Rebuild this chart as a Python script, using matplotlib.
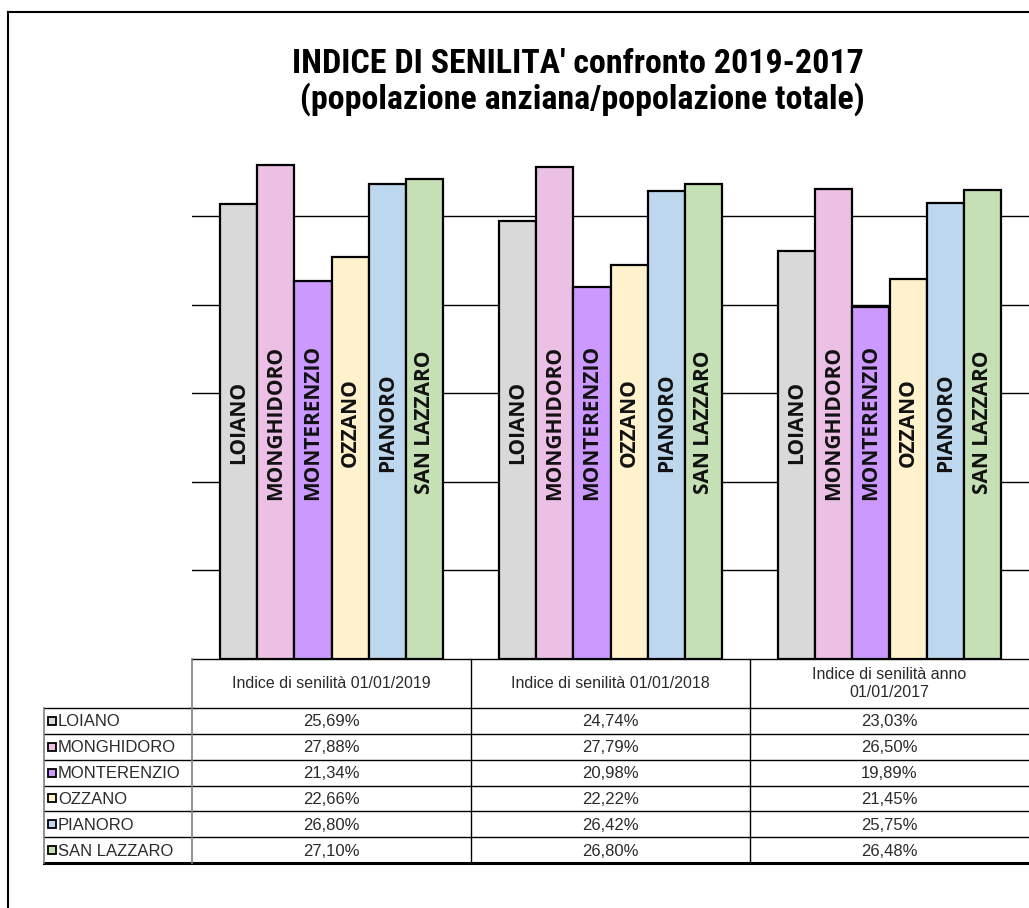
import matplotlib
matplotlib.use("Agg")
import matplotlib.pyplot as plt
from matplotlib import font_manager
from matplotlib.transforms import blended_transform_factory
from matplotlib.patches import Rectangle

# ---- data ----
comuni = ["LOIANO", "MONGHIDORO", "MONTERENZIO", "OZZANO", "PIANORO", "SAN LAZZARO"]
periodi = ["Indice di senilità 01/01/2019", "Indice di senilità 01/01/2018",
           "Indice di senilità anno\n01/01/2017"]
val_2019 = [25.69, 27.88, 21.34, 22.66, 26.80, 27.10]
val_2018 = [24.74, 27.79, 20.98, 22.22, 26.42, 26.80]
val_2017 = [23.03, 26.50, 19.89, 21.45, 25.75, 26.48]
colori = ["#D9D9D9", "#ECC0E4", "#CC99FF", "#FFF2CC", "#BDD7EE", "#C5E0B4"]
titolo = "INDICE DI SENILITA' confronto 2019-2017\n (popolazione anziana/popolazione totale)"

serie = [val_2019, val_2018, val_2017]

# pick a narrow sans font for the title if one is installed
names = {f.name for f in font_manager.fontManager.ttflist}
title_font = "Liberation Sans"
for pref in ["Liberation Sans Narrow", "Arial Narrow", "Roboto Condensed", "Archivo Narrow",
             "DejaVu Sans Condensed", "Asap Condensed"]:
    if pref in names:
        title_font = pref
        break
title_size = 23 if title_font == "Liberation Sans" else 24.5

label_font = "Open Sans"
table_font = "Liberation Sans"

W, H = 1029, 908
fig = plt.figure(figsize=(W / 100, H / 100), dpi=100)

ax_left, ax_right = 192, 1029
y0, y30 = 659, 127.4
ax = fig.add_axes([ax_left / W, (H - y0) / H, (ax_right - ax_left) / W, (y0 - y30) / H])
ax.set_xlim(0, len(serie))
ax.set_ylim(0, 30)
for s in ax.spines.values():
    s.set_visible(False)
ax.set_xticks([])
ax.set_yticks([5, 10, 15, 20, 25])
ax.tick_params(left=False, labelleft=False)
ax.yaxis.grid(True, color="black", linewidth=1.0)
ax.set_axisbelow(True)

bw = 37.33 / 279.0
for i, vals in enumerate(serie):
    for j, v in enumerate(vals):
        xc = i + 0.5 + (j - 2.5) * bw
        ax.bar(xc, v, width=bw, color=colori[j], edgecolor="black", linewidth=1.6, zorder=2)
        ax.text(xc, 13.35, comuni[j], rotation=90, ha="center", va="center",
                family=label_font, fontweight="bold", fontsize=15, color="#111111", zorder=3)

ov = fig.add_axes([0, 0, 1, 1], zorder=5)
ov.set_xlim(0, W)
ov.set_ylim(H, 0)
ov.axis("off")
ov.patch.set_alpha(0)

# outer frame
ov.plot([8, W + 5], [12, 12], color="black", lw=1.5)
ov.plot([8, 8], [12, H + 5], color="black", lw=1.5)

fig.text(578 / W, 1 - 82 / H, titolo, ha="center", va="center", family=title_font,
         fontweight="bold", fontsize=title_size, linespacing=1.08, color="black")

# data table
bt = blended_transform_factory(ax.transData, ov.transData)
head_top, head_bot = 659, 708
row_h = (863 - 708) / 6.0
leg_left = 44
ncol = len(serie)

ov.plot([0, ncol], [head_top, head_top], color="black", lw=1.0, transform=bt)
for k in range(7):
    y = head_bot + k * row_h
    ov.plot([leg_left, W + 5], [y, y], color="black", lw=2.2 if k == 6 else 1.0)
ov.plot([leg_left, leg_left], [head_bot, 863], color="#808080", lw=1.2)
ov.plot([0, 0], [head_top, 863], color="#808080", lw=1.2, transform=bt)
for c in range(1, ncol):
    ov.plot([c, c], [head_top, 863], color="black", lw=1.0, transform=bt)

tcol = "#2a2a2a"
for c, (lab, vals) in enumerate(zip(periodi, serie)):
    ov.text(c + 0.5, (head_top + head_bot) / 2, lab, transform=bt, ha="center", va="center",
            family=table_font, fontsize=11.5, color=tcol, linespacing=1.2)
    for r, v in enumerate(vals):
        ov.text(c + 0.5, head_bot + (r + 0.5) * row_h + 1, f"{v:.2f}%".replace(".", ","),
                transform=bt, ha="center", va="center", family=table_font,
                fontsize=12, color=tcol)

for r, name in enumerate(comuni):
    yc = head_bot + (r + 0.5) * row_h
    ov.add_patch(Rectangle((48, yc - 4), 8, 8, facecolor=colori[r], edgecolor="black", lw=1.3))
    ov.text(58, yc + 1, name, ha="left", va="center", family=table_font,
            fontsize=12, color=tcol)

fig.savefig("out.png", dpi=100)
